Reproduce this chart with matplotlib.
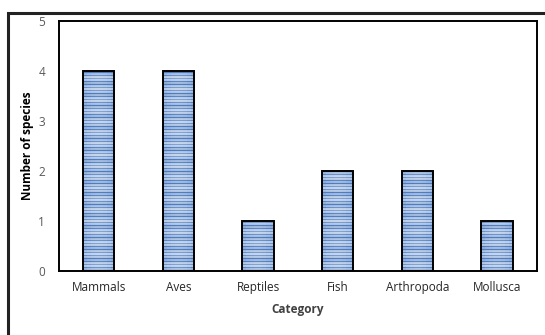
import numpy as np
import matplotlib as mpl
mpl.use('Agg')
import matplotlib.pyplot as plt
from matplotlib.colors import LinearSegmentedColormap
from matplotlib.patches import Rectangle

categories = ['Mammals', 'Aves', 'Reptiles', 'Fish', 'Arthropoda', 'Mollusca']
species_count = [4, 4, 1, 2, 2, 1]
y_ticks = [0, 1, 2, 3, 4, 5]

plt.rcParams['font.family'] = ['Open Sans', 'DejaVu Sans']

fig = plt.figure(figsize=(5.45, 3.35), dpi=100)
ax = fig.add_axes([0.108, 0.191, 0.877, 0.746])

x = np.arange(len(categories))
bars = ax.bar(x, species_count, width=0.39, facecolor='none',
              edgecolor='black', linewidth=1.4, zorder=3)

# striped blue fill, clipped to each bar
rows = np.arange(250)
stripe = 0.55 + 0.3 * np.cos(2 * np.pi * rows / 3.0) + 0.15 * np.cos(2 * np.pi * rows / 11.0)
stripe = np.clip(stripe, 0, 1)[:, None] * np.ones((1, 8))
cols = np.linspace(-1, 1, 8)
stripe = np.clip(stripe + 0.12 * cols[None, :] ** 2, 0, 1)
cmap = LinearSegmentedColormap.from_list('stripes', ['#e4ecf6', '#a9c1e2', '#4f7cc0'])
for b in bars:
    x0 = b.get_x()
    im = ax.imshow(stripe, extent=[x0, x0 + b.get_width(), 0, 5], aspect='auto',
                   cmap=cmap, vmin=0, vmax=1, interpolation='nearest',
                   origin='lower', zorder=2)
    im.set_clip_path(b)

ax.set_xlim(-0.5, len(categories) - 0.5)
ax.set_ylim(0, 5)
ax.set_yticks(y_ticks)
ax.set_xticks(x)
ax.set_xticklabels(categories, fontsize=8.5, color='#262626')
ax.tick_params(axis='y', labelsize=8.5, labelcolor='#595959', length=0, pad=10)
ax.tick_params(axis='x', length=0, pad=7)
for s in ax.spines.values():
    s.set_linewidth(1.4)
    s.set_color('black')

ax.set_xlabel('Category', fontsize=8.5, fontweight='bold', color='#404040', labelpad=7)
ax.set_ylabel('Number of species', fontsize=8.5, fontweight='bold', color='black', labelpad=3)

# outer frame around the chart area
fig.patches.append(Rectangle((8 / 545, -0.2), 1.2, 1 - 13 / 335 + 0.2,
                             transform=fig.transFigure, fill=False,
                             edgecolor='#222222', linewidth=2.2))

fig.savefig('out.png', dpi=100)
